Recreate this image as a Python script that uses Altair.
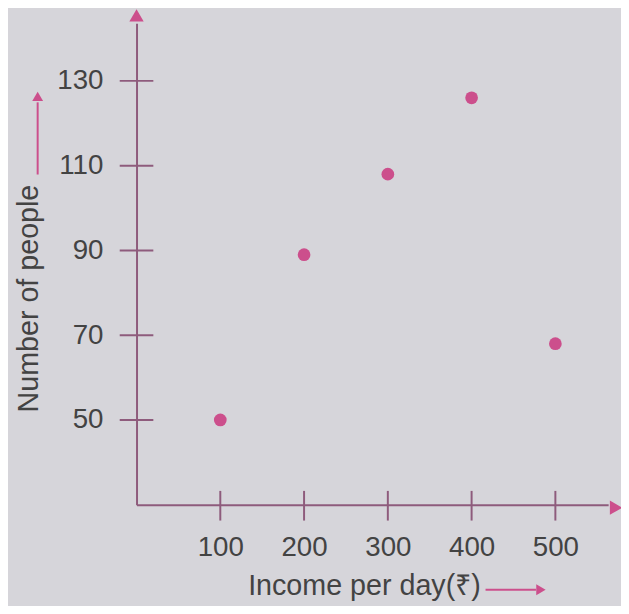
import altair as alt
import pandas as pd

# ---- data ----
income = [100, 200, 300, 400, 500]
people = [50, 89, 108, 126, 68]
x_ticks = [100, 200, 300, 400, 500]
y_ticks = [50, 70, 90, 110, 130]

X_DOMAIN = [0, 563]
Y_DOMAIN = [30, 143.6]

W, H = 477, 487
BG = "#d6d5da"
AXIS = "#8e5b7c"
PINK = "#cc4f8c"
TEXT = "#434343"
FONT = "Liberation Sans"

pts = pd.DataFrame({"income": income, "people": people})
xt = pd.DataFrame({"v": x_ticks})
yt = pd.DataFrame({"v": y_ticks})

xs = alt.Scale(domain=X_DOMAIN, nice=False, zero=False)
ys = alt.Scale(domain=Y_DOMAIN, nice=False, zero=False)

points = alt.Chart(pts).mark_circle(size=165, color=PINK, opacity=1).encode(
    x=alt.X("income:Q", scale=xs, axis=alt.Axis(
        values=x_ticks, grid=False, ticks=False, domain=True,
        domainColor=AXIS, domainWidth=2, labelPadding=29,
        labelFontSize=28, labelColor=TEXT, labelFont=FONT,
        title="Income per day(₹)", titleFont=FONT, titleFontSize=29,
        titleFontWeight="normal", titleColor=TEXT,
        titleX=230, titleY=91, titleAnchor="middle", titleAlign="center",
        titleBaseline="alphabetic")),
    y=alt.Y("people:Q", scale=ys, axis=alt.Axis(
        values=y_ticks, grid=False, ticks=False, domain=True,
        domainColor=AXIS, domainWidth=2, labelPadding=34,
        labelFontSize=28, labelColor=TEXT, labelFont=FONT,
        title="Number of people", titleFont=FONT, titleFontSize=29,
        titleFontWeight="normal", titleColor=TEXT,
        titleX=-100, titleY=278, titleAngle=270, titleAlign="center",
        titleBaseline="alphabetic")),
)

# tick marks crossing the axes
xtick_rules = alt.Chart(xt).mark_rule(color=AXIS, strokeWidth=2).encode(
    x=alt.X("v:Q", scale=xs), y=alt.value(H - 14), y2=alt.value(H + 16)
)
ytick_rules = alt.Chart(yt).mark_rule(color=AXIS, strokeWidth=2).encode(
    y=alt.Y("v:Q", scale=ys), x=alt.value(-17), x2=alt.value(17)
)

# arrowheads on axes
arrow_up = alt.Chart(pd.DataFrame({"a": [0]})).mark_point(
    shape="triangle-up", filled=True, color=PINK, size=210, opacity=1
).encode(x=alt.value(0), y=alt.value(-8))
arrow_right = alt.Chart(pd.DataFrame({"a": [0]})).mark_point(
    shape="triangle-right", filled=True, color=PINK, size=210, opacity=1
).encode(x=alt.value(W + 8), y=alt.value(H + 3))

# arrows next to the titles
xt_line = alt.Chart(pd.DataFrame({"a": [0]})).mark_rule(color=PINK, strokeWidth=2).encode(
    x=alt.value(353), x2=alt.value(404), y=alt.value(H + 86)
)
xt_head = alt.Chart(pd.DataFrame({"a": [0]})).mark_point(
    shape="triangle-right", filled=True, color=PINK, size=120, opacity=1
).encode(x=alt.value(409), y=alt.value(H + 86))
yt_line = alt.Chart(pd.DataFrame({"a": [0]})).mark_rule(color=PINK, strokeWidth=2).encode(
    x=alt.value(-100), y=alt.value(153), y2=alt.value(80)
)
yt_head = alt.Chart(pd.DataFrame({"a": [0]})).mark_point(
    shape="triangle-up", filled=True, color=PINK, size=120, opacity=1
).encode(x=alt.value(-100), y=alt.value(74))

chart = alt.layer(
    xtick_rules, ytick_rules, arrow_up, arrow_right,
    xt_line, xt_head, yt_line, yt_head, points
).properties(
    width=W, height=H,
    autosize=alt.AutoSizeParams(type="none"),
    padding={"left": 130, "top": 12, "right": 13, "bottom": 99},
    background=BG,
).configure_view(stroke=None)

chart.save("out.html", embed_options={"renderer": "svg", "actions": False})
